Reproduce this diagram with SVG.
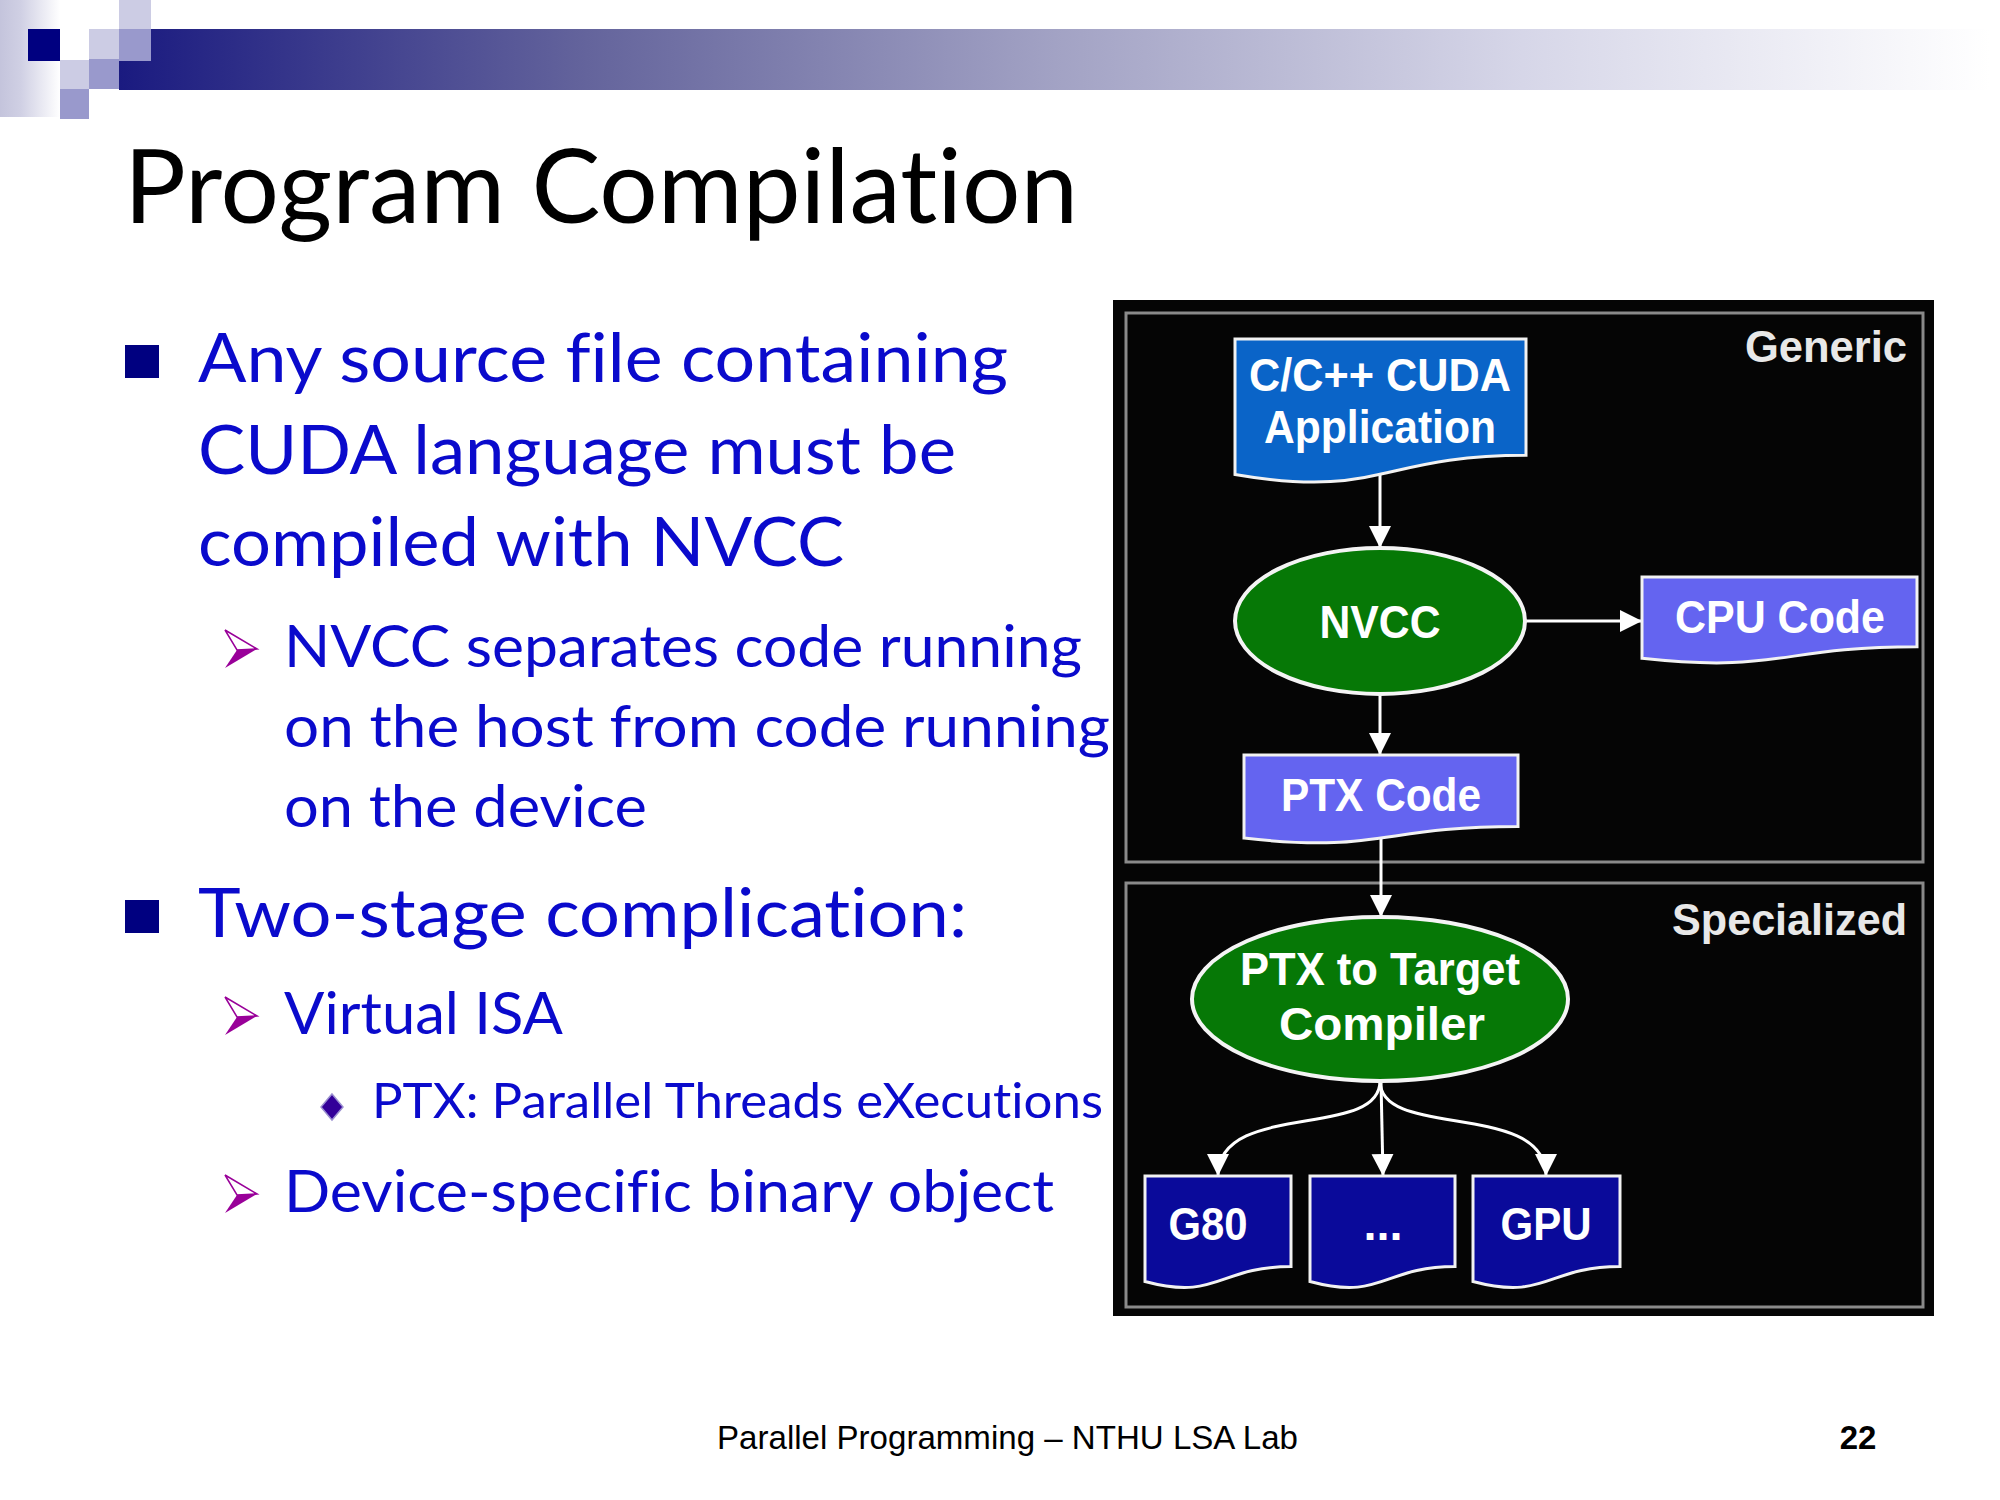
<svg xmlns="http://www.w3.org/2000/svg" width="2000" height="1500" viewBox="0 0 2000 1500">
<defs>
  <linearGradient id="bar" gradientUnits="userSpaceOnUse" x1="119" y1="0" x2="1990" y2="0">
    <stop offset="0" stop-color="#1a1a80"/>
    <stop offset="0.25" stop-color="#64649c"/>
    <stop offset="0.5" stop-color="#a2a2c4"/>
    <stop offset="0.75" stop-color="#d6d6e8"/>
    <stop offset="1" stop-color="#ffffff"/>
  </linearGradient>
  <linearGradient id="strip" x1="0" y1="0" x2="1" y2="0">
    <stop offset="0" stop-color="#c4c4dc"/>
    <stop offset="0.35" stop-color="#d0d0e4"/>
    <stop offset="1" stop-color="#ffffff"/>
  </linearGradient>
  <marker id="ah" markerUnits="userSpaceOnUse" markerWidth="24" markerHeight="24" viewBox="0 0 24 24" refX="22" refY="12" orient="auto">
    <path d="M0,1 L22,12 L0,23 Z" fill="#ffffff"/>
  </marker>
  <style>
    text { font-variant-ligatures: none; }
    .body { font-family: Lato, "Open Sans", "Noto Sans", sans-serif; fill: #0a0acc; }
    .l1 { font-size: 68px; }
    .l2 { font-size: 59px; }
    .l3 { font-size: 49px; }
    .dg { font-family: "Liberation Sans", Arial, sans-serif; font-weight: bold; fill: #ffffff; text-anchor: middle; font-size: 47px; }
    .lbl { font-family: "Liberation Sans", Arial, sans-serif; font-weight: bold; fill: #e8e8e8; font-size: 45px; }
    .frame { fill: none; stroke: #8a8a8a; stroke-width: 3; }
    .doc { stroke: #f2f2f2; stroke-width: 3; }
    .ell { fill: #067806; stroke: #f4f4f4; stroke-width: 4; }
    .conn { stroke: #ffffff; stroke-width: 3; fill: none; marker-end: url(#ah); }
    .sq { fill: #000080; }
    .arrw { fill: #ffffff; stroke: #990099; stroke-width: 1.5; }
    .arrf { fill: #990099; }
  </style>
</defs>

<rect x="0" y="0" width="2000" height="1500" fill="#ffffff"/>

<!-- header decoration -->
<g id="header">
  <rect x="0" y="0" width="60" height="117" fill="url(#strip)"/>
  <rect x="119" y="29" width="1881" height="61" fill="url(#bar)"/>
  <rect x="119" y="0" width="32" height="29" fill="#ccccE4"/>
  <rect x="28" y="29" width="32" height="32" fill="#000080"/>
  <rect x="60" y="29" width="29" height="31" fill="#ffffff"/>
  <rect x="89" y="29" width="30" height="30" fill="#ccccE4"/>
  <rect x="119" y="29" width="32" height="32" fill="#9999cc"/>
  <rect x="60" y="60" width="29" height="29" fill="#ccccE4"/>
  <rect x="89" y="59" width="30" height="30" fill="#9999cc"/>
  <rect x="60" y="89" width="29" height="30" fill="#9999cc"/>
</g>

<text id="title" x="124" y="223" font-family="Lato, 'Open Sans', sans-serif" font-size="102" fill="#000000" textLength="954" lengthAdjust="spacingAndGlyphs">Program Compilation</text>

<!-- bullet text -->
<g id="bullets">
  <rect class="sq" x="125" y="345" width="34" height="33"/>
  <text class="body l1" x="198" y="382" textLength="810" lengthAdjust="spacingAndGlyphs">Any source file containing</text>
  <text class="body l1" x="198" y="474" textLength="758" lengthAdjust="spacingAndGlyphs">CUDA language must be</text>
  <text class="body l1" x="198" y="566" textLength="646" lengthAdjust="spacingAndGlyphs">compiled with NVCC</text>

  <polygon class="arrw" points="225,630 257,649 237,650"/>
  <polygon class="arrf" points="237,650 257,649 225,668"/>
  <text class="body l2" x="284" y="667" textLength="798" lengthAdjust="spacingAndGlyphs">NVCC separates code running</text>
  <text class="body l2" x="284" y="747" textLength="826" lengthAdjust="spacingAndGlyphs">on the host from code running</text>
  <text class="body l2" x="284" y="827" textLength="363" lengthAdjust="spacingAndGlyphs">on the device</text>

  <rect class="sq" x="125" y="900" width="34" height="33"/>
  <text class="body l1" x="198" y="937" textLength="769" lengthAdjust="spacingAndGlyphs">Two-stage complication:</text>

  <polygon class="arrw" points="225,997 257,1016 237,1017"/>
  <polygon class="arrf" points="237,1017 257,1016 225,1035"/>
  <text class="body l2" x="284" y="1034" textLength="279" lengthAdjust="spacingAndGlyphs">Virtual ISA</text>

  <polygon points="332,1094 343,1107 332,1120 321,1107" fill="#330099" stroke="#9a8fd0" stroke-width="1.5"/>
  <text class="body l3" x="372" y="1118" textLength="731" lengthAdjust="spacingAndGlyphs">PTX: Parallel Threads eXecutions</text>

  <polygon class="arrw" points="225,1175 257,1194 237,1195"/>
  <polygon class="arrf" points="237,1195 257,1194 225,1213"/>
  <text class="body l2" x="284" y="1212" textLength="770" lengthAdjust="spacingAndGlyphs">Device-specific binary object</text>
</g>

<!-- diagram background and frames -->
<g id="diagram-bg">
  <rect x="1113" y="300" width="821" height="1016" fill="#050505"/>
  <rect class="frame" x="1126" y="313" width="797" height="549"/>
  <rect class="frame" x="1126" y="883" width="797" height="424"/>
  <text class="lbl" x="1745" y="362" textLength="162" lengthAdjust="spacingAndGlyphs">Generic</text>
  <text class="lbl" x="1672" y="935" textLength="235" lengthAdjust="spacingAndGlyphs">Specialized</text>
</g>

<!-- connectors -->
<g id="connectors">
  <line class="conn" x1="1380" y1="474" x2="1380" y2="548"/>
  <line class="conn" x1="1525" y1="621" x2="1642" y2="621"/>
  <line class="conn" x1="1380" y1="694" x2="1380" y2="755"/>
  <line class="conn" x1="1381" y1="838" x2="1381" y2="917"/>
  <path class="conn" d="M1380,1081 C1380,1140 1218,1100 1218,1176"/>
  <line class="conn" x1="1381" y1="1081" x2="1383" y2="1176"/>
  <path class="conn" d="M1380,1081 C1380,1140 1546,1100 1546,1176"/>
</g>

<g id="node-app">
  <path class="doc" fill="#0a64c8" d="M1235,339 H1526 V455.3 C1380.5,455.3 1380.5,499.5 1235,474.4 Z"/>
  <text class="dg" x="1380" y="391" textLength="262" lengthAdjust="spacingAndGlyphs">C/C++ CUDA</text>
  <text class="dg" x="1380" y="443" textLength="232" lengthAdjust="spacingAndGlyphs">Application</text>
</g>

<g id="node-nvcc">
  <ellipse class="ell" cx="1380" cy="621" rx="145" ry="73"/>
  <text class="dg" x="1380" y="638" textLength="121" lengthAdjust="spacingAndGlyphs">NVCC</text>
</g>

<g id="node-cpu">
  <path class="doc" fill="#6464f0" d="M1642,577 H1917 V646.8 C1779.5,646.8 1779.5,673.3 1642,658.3 Z"/>
  <text class="dg" x="1780" y="633" textLength="210" lengthAdjust="spacingAndGlyphs">CPU Code</text>
</g>

<g id="node-ptx">
  <path class="doc" fill="#6464f0" d="M1244,755 H1518 V826.4 C1381,826.4 1381,853.5 1244,838.1 Z"/>
  <text class="dg" x="1381" y="811" textLength="200" lengthAdjust="spacingAndGlyphs">PTX Code</text>
</g>

<g id="node-compiler">
  <ellipse class="ell" cx="1380" cy="999" rx="188" ry="82"/>
  <text class="dg" x="1380" y="985" textLength="280" lengthAdjust="spacingAndGlyphs">PTX to Target</text>
  <text class="dg" x="1382" y="1040" textLength="206" lengthAdjust="spacingAndGlyphs">Compiler</text>
</g>

<g id="node-g80">
  <path class="doc" fill="#0a0a9a" d="M1145,1176 H1291 V1266.6 C1218,1266.6 1218,1301.1 1145,1281.5 Z"/>
  <text class="dg" x="1208" y="1240" textLength="79" lengthAdjust="spacingAndGlyphs">G80</text>
</g>

<g id="node-dots">
  <path class="doc" fill="#0a0a9a" d="M1310,1176 H1455 V1266.6 C1382.5,1266.6 1382.5,1301.1 1310,1281.5 Z"/>
  <text class="dg" x="1383" y="1240">...</text>
</g>

<g id="node-gpu">
  <path class="doc" fill="#0a0a9a" d="M1473,1176 H1620 V1266.6 C1546.5,1266.6 1546.5,1301.1 1473,1281.5 Z"/>
  <text class="dg" x="1546" y="1240" textLength="91" lengthAdjust="spacingAndGlyphs">GPU</text>
</g>

<!-- footer -->
<text id="footer" x="717" y="1449" font-family="'Liberation Sans', Arial, sans-serif" font-size="33" fill="#000000" textLength="581" lengthAdjust="spacingAndGlyphs">Parallel Programming – NTHU LSA Lab</text>
<text id="page" x="1858" y="1449" text-anchor="middle" font-family="'Liberation Sans', Arial, sans-serif" font-weight="bold" font-size="33" fill="#000000">22</text>
</svg>
